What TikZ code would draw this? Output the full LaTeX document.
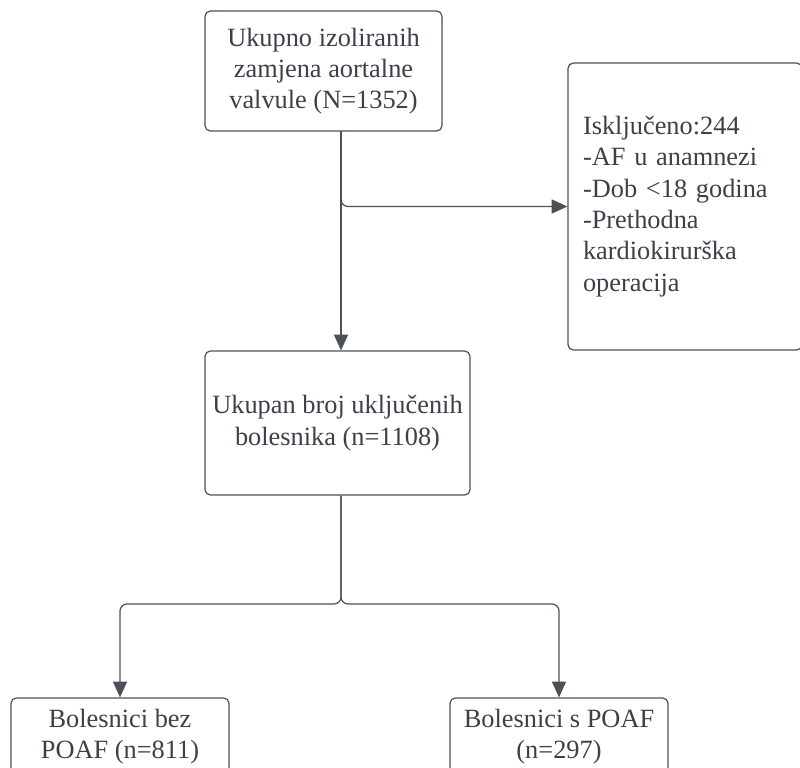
\documentclass[tikz,border=0pt]{standalone}
\usepackage{fontspec}
\setmainfont{Liberation Serif}
\usetikzlibrary{arrows.meta}
\definecolor{linegray}{HTML}{4B5059}
\definecolor{textgray}{HTML}{3B4049}
\begin{document}
\begin{tikzpicture}[x=0.02cm, y=-0.02cm,
    every node/.style={font=\fontsize{15}{17.8}\selectfont, text=textgray},
    box/.style={draw=linegray, line width=0.7pt, rounded corners=3pt, align=center, inner sep=4pt},
    link/.style={draw=linegray, line width=0.7pt, rounded corners=4pt},
    tip/.style={-{Triangle[length=9pt, width=8pt]}, linegray}]

    \useasboundingbox (0,0) rectangle (800,767);

    \node[box, minimum width=4.74cm, minimum height=2.4cm] (total) at (323.5,71)
        {Ukupno izoliranih\\zamjena aortalne\\valvule (N=1352)};
    \node[box, minimum width=4.68cm, minimum height=5.74cm, text width=4.08cm, align=left, inner sep=0.3cm] (excluded) at (685,206.5)
        {Isključeno:244\\-AF u anamnezi\\-Dob <18 godina\\-Prethodna\\kardiokirurška\\operacija};
    \node[box, minimum width=5.3cm, minimum height=2.88cm] (included) at (337.5,423)
        {Ukupan broj uključenih\\bolesnika (n=1108)};
    \node[box, minimum width=4.36cm, minimum height=1.56cm] (nopoaf) at (120,737)
        {Bolesnici bez\\POAF (n=811)};
    \node[box, minimum width=4.36cm, minimum height=1.56cm] (poaf) at (559,737)
        {Bolesnici s POAF\\(n=297)};

    \coordinate (top) at (341,131);
    \coordinate (split) at (341,604);

    \draw[link, tip] (top) -- (top |- included.north);
    \draw[link, tip] (top) |- (excluded.west);
    \draw[link, tip] (included.south -| split) -- (split) -| (nopoaf.north);
    \draw[link, tip] (included.south -| split) -- (split) -| (poaf.north);

\end{tikzpicture}
\end{document}
